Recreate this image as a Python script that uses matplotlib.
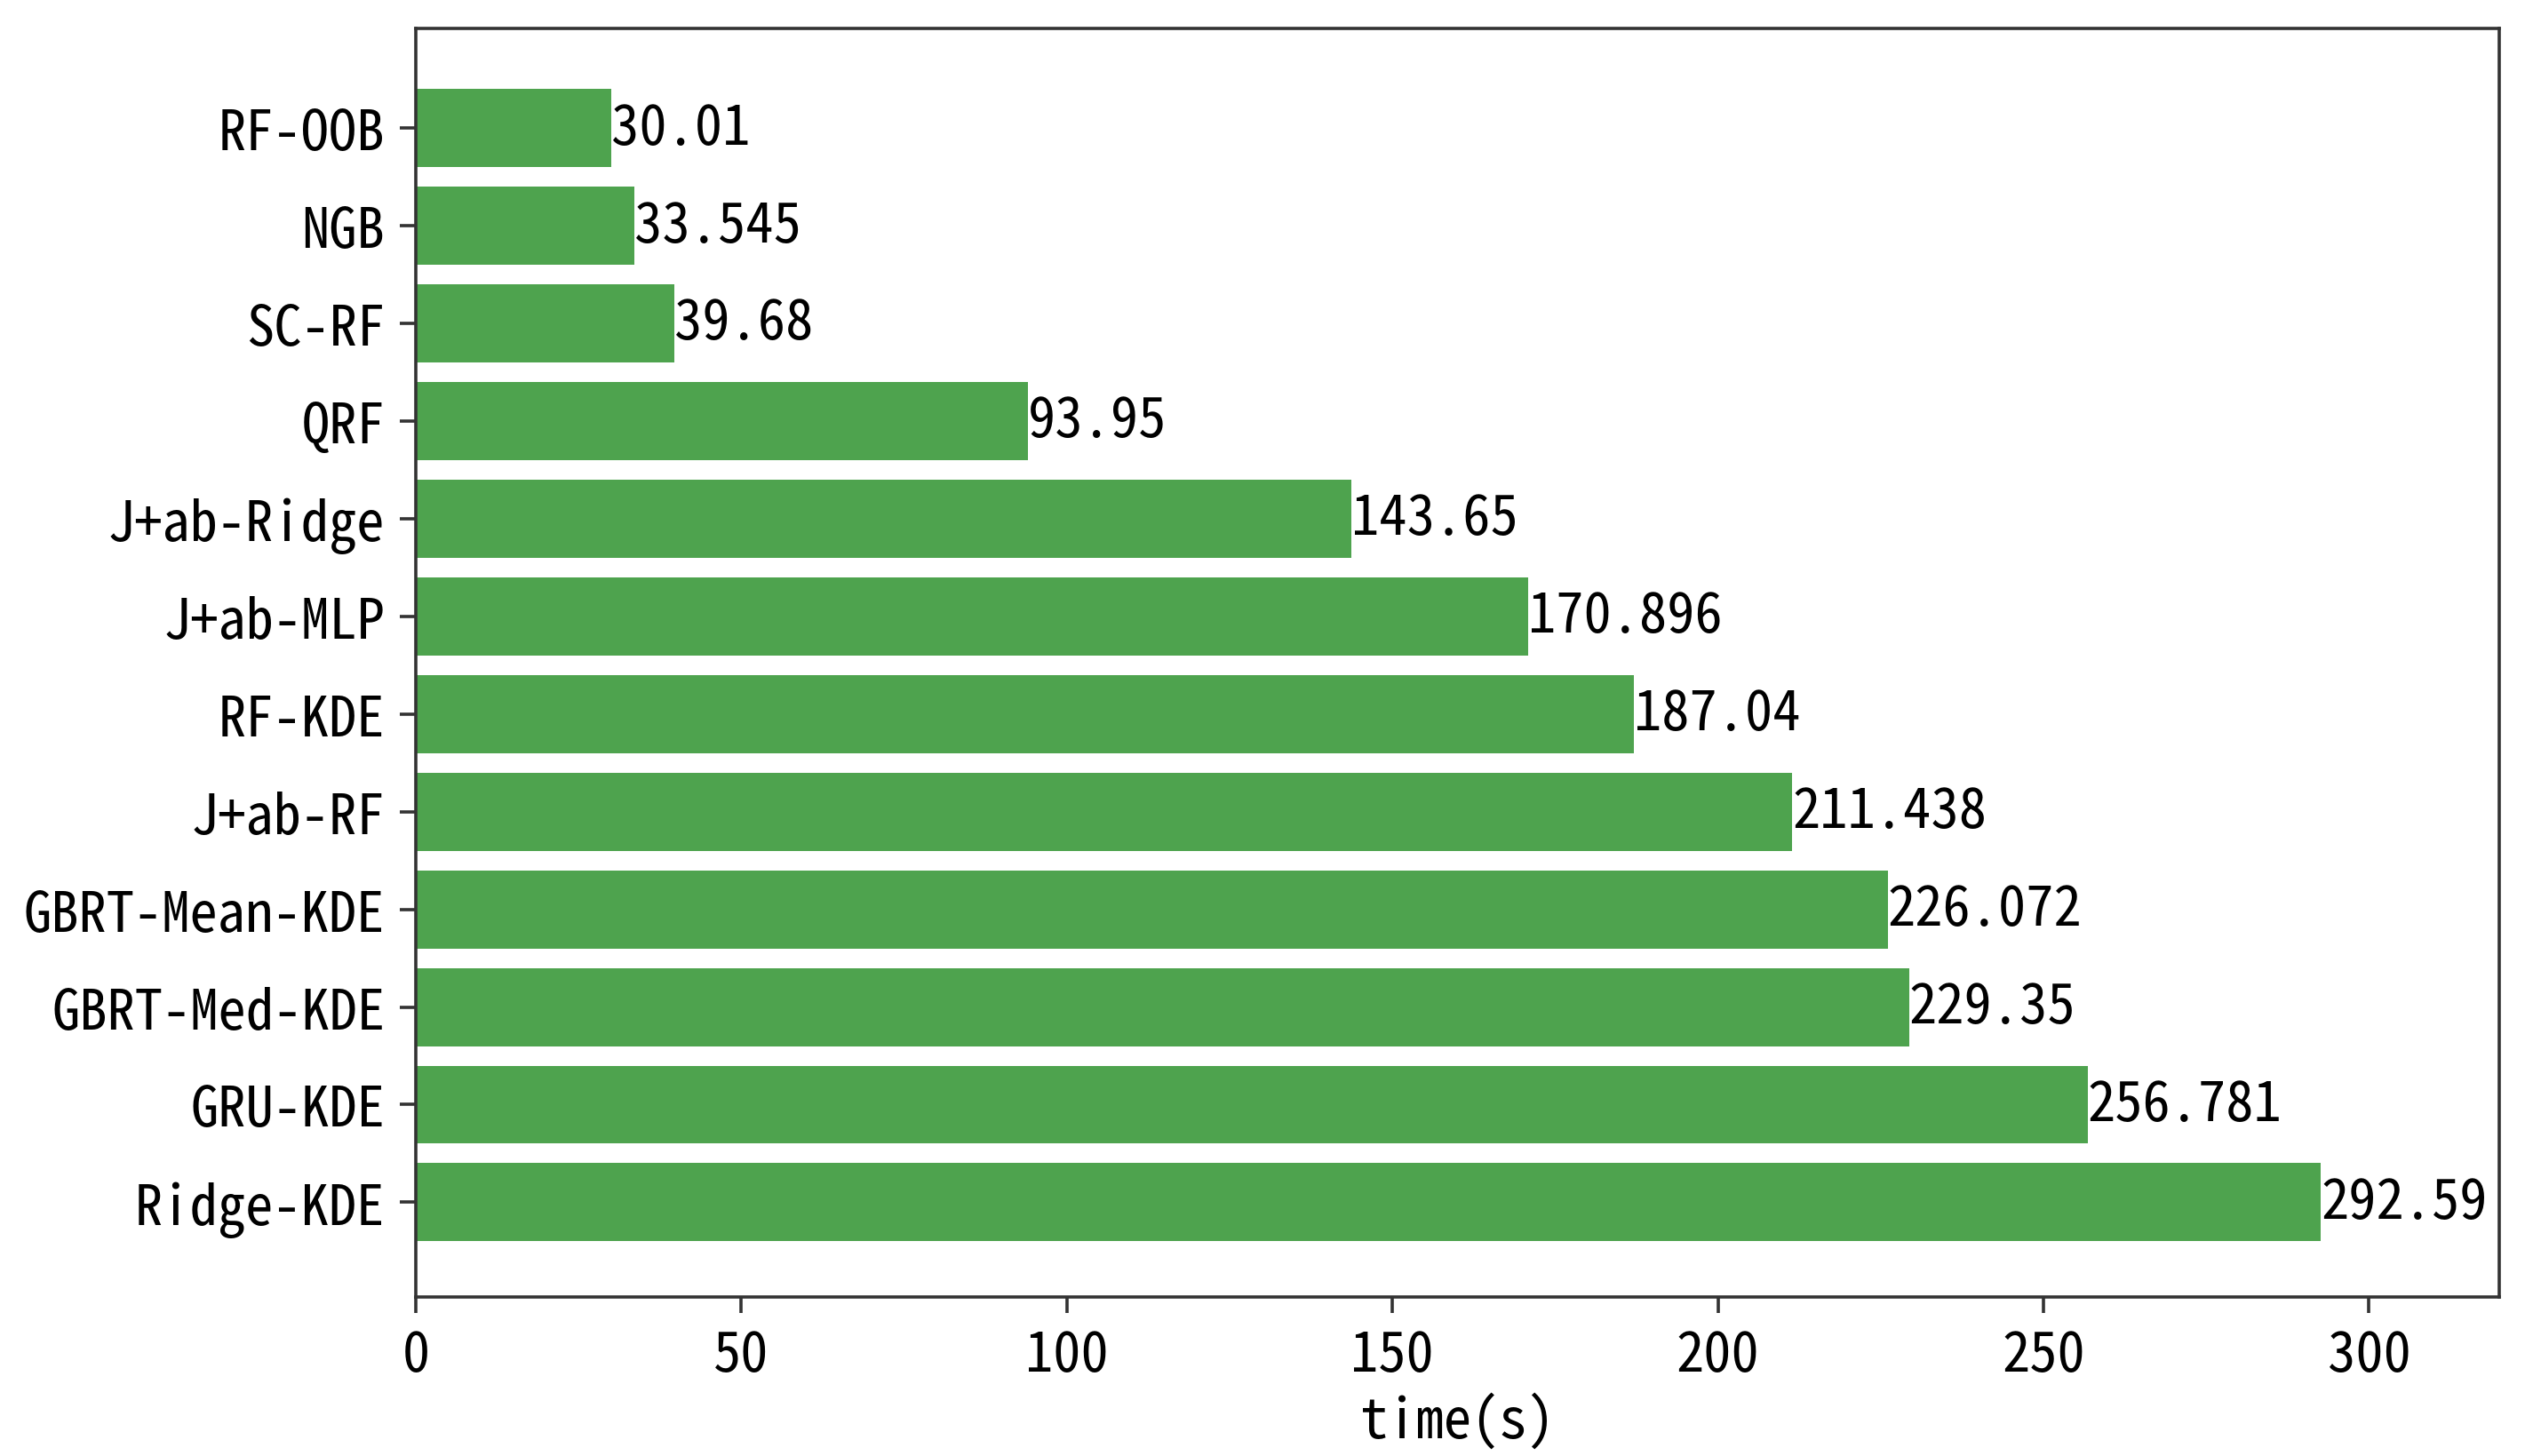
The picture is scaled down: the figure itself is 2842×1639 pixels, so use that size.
import matplotlib
matplotlib.use("Agg")
import matplotlib.pyplot as plt

# models, top to bottom as shown
models = ["RF-OOB", "NGB", "SC-RF", "QRF", "J+ab-Ridge", "J+ab-MLP",
          "RF-KDE", "J+ab-RF", "GBRT-Mean-KDE", "GBRT-Med-KDE",
          "GRU-KDE", "Ridge-KDE"]
times = [30.01, 33.545, 39.68, 93.95, 143.65, 170.896,
         187.04, 211.438, 226.072, 229.35, 256.781, 292.59]
time_labels = ["30.01", "33.545", "39.68", "93.95", "143.65", "170.896",
               "187.04", "211.438", "226.072", "229.35", "256.781", "292.59"]

plt.rcParams['font.family'] = ['Noto Sans Mono CJK SC', 'Noto Sans CJK SC', 'DejaVu Sans']
plt.rcParams['font.size'] = 22.5
plt.rcParams['axes.unicode_minus'] = False

fig = plt.figure(figsize=(14.21, 8.2), dpi=200)
ax = fig.add_axes([0.1647, 0.1091, 0.8251, 0.8708])

# reverse so the first model sits at the top
ypos = list(range(len(models)))[::-1]
ax.barh(ypos, times, height=0.8, color='#4ea34e')
for y, t, lab in zip(ypos, times, time_labels):
    ax.text(t, y, lab, va='center', ha='left', fontsize=22.5)

ax.set_yticks(ypos)
ax.set_yticklabels(models)
ax.set_xlim(0, 320)
ax.set_ylim(-0.97, 12.02)
ax.set_xticks([0, 50, 100, 150, 200, 250, 300])
ax.set_xlabel("time(s)", fontsize=22.5, labelpad=4)

for s in ax.spines.values():
    s.set_linewidth(1.3)
    s.set_color('#333333')
ax.tick_params(length=6.5, width=1.3, color='#333333', labelsize=22.5, pad=6)

fig.savefig("out.png", dpi=200)
